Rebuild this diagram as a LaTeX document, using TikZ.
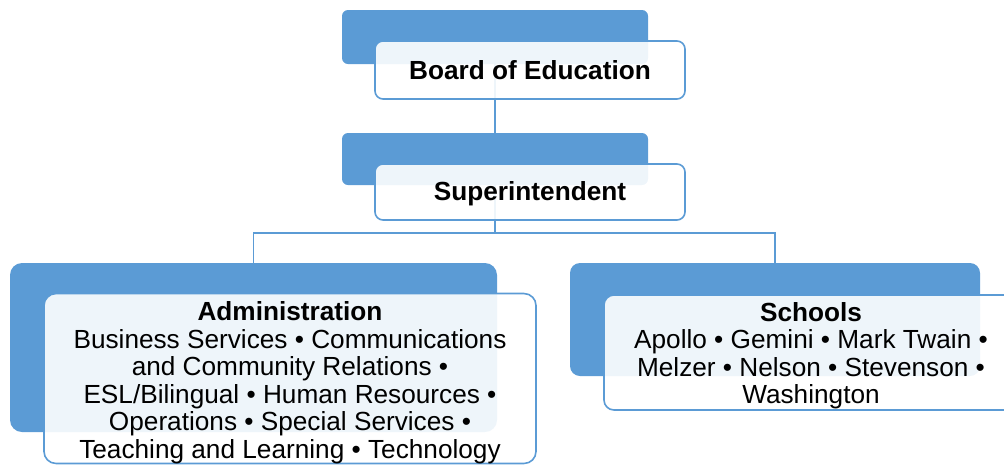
\documentclass[tikz,border=0pt]{standalone}
\usepackage{fontspec}
\setmainfont{Liberation Sans}
\usetikzlibrary{backgrounds}
\definecolor{orgblue}{HTML}{5B9BD5}

\begin{document}
\begin{tikzpicture}[x=1pt, y=-1pt,
  back/.style={fill=orgblue, rounded corners=6pt, inner sep=0pt},
  front/.style={draw=orgblue, line width=1.6pt, fill=white, fill opacity=0.9, text opacity=1, rounded corners=8pt, inner sep=0pt, align=center, font=\fontsize{26.2}{27.5}\selectfont},
  link/.style={draw=orgblue, line width=1.8pt}]
	\path[use as bounding box, clip] (0,0) rectangle (1004,464);
	\node[back, minimum width=306pt, minimum height=54pt] (boardback) at (495,37) {};
	\node[front, minimum width=310pt, minimum height=58pt] (board) at (530,70) {\bfseries Board of Education};
	\node[back, minimum width=306pt, minimum height=52pt] (supback) at (495,159) {};
	\node[front, minimum width=310pt, minimum height=56pt] (sup) at (530,192) {\rule{0pt}{22pt}\bfseries Superintendent};
	\node[back, rounded corners=12pt, minimum width=487pt, minimum height=169pt] (adminback) at (253.5,347.5) {};
	\node[front, rounded corners=12pt, minimum width=492pt, minimum height=167pt] (admin) at (290,378.5)
	  {\rule{0pt}{27pt}\textbf{Administration}\\Business Services • Communications\\and Community Relations •\\ESL/Bilingual • Human Resources •\\Operations • Special Services •\\Teaching and Learning • Technology};
	\node[back, rounded corners=10pt, minimum width=410pt, minimum height=113pt] (schoolsback) at (775,319.5) {};
	\node[front, rounded corners=10pt, minimum width=414pt, minimum height=115pt] (schools) at (811,352.5)
	  {\rule{0pt}{25pt}\textbf{Schools}\\Apollo • Gemini • Mark Twain •\\Melzer • Nelson • Stevenson •\\Washington};
	\coordinate (split) at (495,233);
	\begin{pgfonlayer}{background}
	\draw[link] (boardback.center) -- (supback.north);
	\draw[link] (supback.center) -- (split);
	\draw[link] (adminback.north) |- (split) -| (schoolsback.north);
	\end{pgfonlayer}
\end{tikzpicture}
\end{document}
